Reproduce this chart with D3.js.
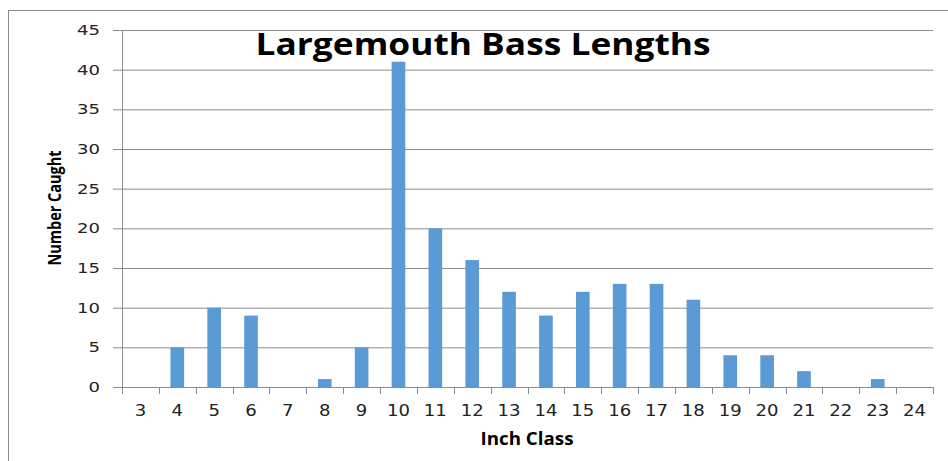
<!DOCTYPE html>
<html>
<head>
<meta charset="utf-8">
<script src="https://cdn.jsdelivr.net/npm/d3@7"></script>
<style>
  body { margin: 0; background: #fff; }
  svg { display: block; }
</style>
</head>
<body>
<div id="chart"></div>
<script>
// Inch classes and counts
const inchClasses = ["3","4","5","6","7","8","9","10","11","12","13","14","15","16","17","18","19","20","21","22","23","24"];
const numberCaught = [0,5,10,9,0,1,5,41,20,16,12,9,12,13,13,11,4,4,2,0,1,0];
const yTicks = [0,5,10,15,20,25,30,35,40,45];

const W = 948, H = 461;
const plotLeft = 122, plotRight = 933, plotTop = 30, plotBottom = 387;

const svg = d3.select("#chart").append("svg")
    .attr("width", W).attr("height", H);

// outer chart border (runs off the right/bottom edge)
svg.append("rect")
    .attr("x", 8.5).attr("y", 10.5).attr("width", 1000).attr("height", 500)
    .attr("fill", "none").attr("stroke", "#8a8a8a").attr("stroke-width", 1);

const x = d3.scaleBand().domain(inchClasses).range([plotLeft, plotRight]).padding(0);
const y = d3.scaleLinear().domain([0, 45]).range([plotBottom, plotTop]);

// gridlines + y labels
const yAxis = svg.append("g")
    .attr("transform", `translate(${plotLeft},0)`)
    .call(d3.axisLeft(y).tickValues(yTicks).tickSize(9).tickPadding(13));
yAxis.select(".domain").remove();
yAxis.selectAll(".tick line")
    .attr("x2", plotRight - plotLeft)
    .attr("x1", -9)
    .attr("stroke", "#8c8c8c");
yAxis.selectAll("text")
    .style("font-family", "DejaVu Sans")
    .style("font-size", "14px")
    .attr("textLength", d => String(d).length * 11.5)
    .attr("lengthAdjust", "spacingAndGlyphs")
    .attr("fill", "#222");

// y axis line
svg.append("line")
    .attr("x1", plotLeft + 0.5).attr("x2", plotLeft + 0.5)
    .attr("y1", plotTop).attr("y2", plotBottom)
    .attr("stroke", "#8c8c8c");

// bars
const barW = x.bandwidth() * 0.37;
svg.selectAll(".bar")
    .data(inchClasses.map((c, i) => ({ c, v: numberCaught[i] })).filter(d => d.v > 0))
    .join("rect")
    .attr("class", "bar")
    .attr("x", d => x(d.c) + (x.bandwidth() - barW) / 2)
    .attr("width", barW)
    .attr("y", d => y(d.v))
    .attr("height", d => y(0) - y(d.v))
    .attr("fill", "#5b9bd5");

// x axis: line, boundary ticks, centered labels
svg.append("line")
    .attr("x1", plotLeft).attr("x2", plotRight)
    .attr("y1", plotBottom + 0.5).attr("y2", plotBottom + 0.5)
    .attr("stroke", "#8c8c8c");
const bounds = inchClasses.map(c => x(c)).concat([plotRight]);
svg.selectAll(".xtick")
    .data(bounds)
    .join("line")
    .attr("class", "xtick")
    .attr("x1", d => Math.round(d) + 0.5).attr("x2", d => Math.round(d) + 0.5)
    .attr("y1", plotBottom).attr("y2", plotBottom + 7)
    .attr("stroke", "#8c8c8c");
svg.selectAll(".xlab")
    .data(inchClasses)
    .join("text")
    .attr("class", "xlab")
    .attr("x", d => x(d) + x.bandwidth() / 2)
    .attr("y", 416)
    .attr("text-anchor", "middle")
    .style("font-family", "DejaVu Sans")
    .style("font-size", "15px")
    .attr("textLength", d => d.length * 11.5)
    .attr("lengthAdjust", "spacingAndGlyphs")
    .attr("fill", "#222")
    .text(d => d);

// title
svg.append("text")
    .attr("x", 483).attr("y", 55)
    .attr("text-anchor", "middle")
    .attr("textLength", 455).attr("lengthAdjust", "spacingAndGlyphs")
    .style("font-family", "Open Sans")
    .style("font-weight", "bold")
    .style("font-size", "30px")
    .text("Largemouth Bass Lengths");

// axis titles
svg.append("text")
    .attr("transform", "translate(61,208) rotate(-90)")
    .attr("text-anchor", "middle")
    .attr("textLength", 115).attr("lengthAdjust", "spacingAndGlyphs")
    .style("font-family", "Open Sans")
    .style("font-weight", "bold")
    .style("font-size", "17px")
    .text("Number Caught");

svg.append("text")
    .attr("x", 527).attr("y", 445)
    .attr("text-anchor", "middle")
    .attr("textLength", 93).attr("lengthAdjust", "spacingAndGlyphs")
    .style("font-family", "Open Sans")
    .style("font-weight", "bold")
    .style("font-size", "17px")
    .text("Inch Class");
</script>
</body>
</html>
